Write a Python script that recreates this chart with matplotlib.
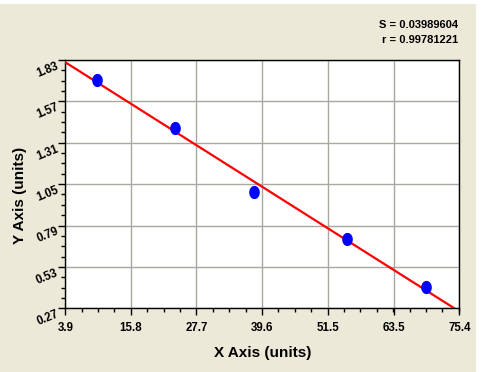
import numpy as np
import matplotlib
matplotlib.use("Agg")
import matplotlib.pyplot as plt
from matplotlib.patches import Rectangle
from matplotlib.path import Path
from matplotlib.ticker import FixedLocator, AutoMinorLocator

x_vals = [9.65, 23.75, 38.15, 55.0, 69.3]
y_vals = [1.704, 1.405, 1.001, 0.704, 0.404]
x_ticks = [3.9, 15.8, 27.7, 39.6, 51.5, 63.5, 75.4]
y_ticks = [0.27, 0.53, 0.79, 1.05, 1.31, 1.57, 1.83]
x_tick_labels = ["3.9", "15.8", "27.7", "39.6", "51.5", "63.5", "75.4"]
y_tick_labels = ["0.27", "0.53", "0.79", "1.05", "1.31", "1.57", "1.83"]
stats_text = ["S = 0.03989604", "r = 0.99781221"]

plt.rcParams['font.family'] = ['Liberation Sans', 'DejaVu Sans']

fig = plt.figure(figsize=(4.86, 3.72), dpi=100, facecolor='white')
fig.patches.append(Rectangle((0, 0), 476/486, 368/372, transform=fig.transFigure,
                             facecolor='#ECE9D8', edgecolor='none', zorder=-10))

ax = fig.add_axes([65.3/486, 1-308.3/372, (459.3-65.3)/486, (308.3-60)/372])
ax.set_facecolor('white')
ax.set_xlim(3.9, 75.4)
ax.set_ylim(0.27, 1.83)

ax.xaxis.set_major_locator(FixedLocator(x_ticks))
ax.yaxis.set_major_locator(FixedLocator(y_ticks))
ax.set_xticklabels(x_tick_labels, fontsize=8.3, fontweight='bold')
ax.set_yticklabels(y_tick_labels, fontsize=8.3, fontweight='bold', rotation=22,
                   rotation_mode='anchor', ha='right', va='top')
ax.xaxis.set_minor_locator(AutoMinorLocator(4))
ax.yaxis.set_minor_locator(AutoMinorLocator(4))
ax.tick_params(axis='both', which='major', direction='out', length=5, width=1, color='black')
ax.tick_params(axis='both', which='minor', direction='out', length=3, width=1, color='black')
ax.tick_params(axis='x', which='major', pad=5)
ax.tick_params(axis='y', which='major', pad=2)

ax.grid(True, which='major', color='#A8A8A0', linewidth=1)
ax.set_axisbelow(True)
for s in ax.spines.values():
    s.set_color('black')
    s.set_linewidth(1)

# regression line
coef = np.polyfit(x_vals, y_vals, 1)
xl = np.array([x_ticks[0], x_ticks[-1]])
ax.plot(xl, np.polyval(coef, xl), color='#FF0000', linewidth=1.6, zorder=3)

# ellipse marker
t = np.linspace(0, 2*np.pi, 40)
verts = np.column_stack([0.78*np.cos(t), np.sin(t)])
ell = Path(verts, closed=True)
ax.plot(x_vals, y_vals, linestyle='none', marker=ell, markersize=8.5,
        color='#0000FF', markeredgecolor='#0000FF', zorder=4)

ax.set_xlabel("X Axis (units)", fontsize=11, fontweight='bold')
ax.set_ylabel("Y Axis (units)", fontsize=11, fontweight='bold')
ax.xaxis.set_label_coords(0.502, -0.152)
ax.yaxis.set_label_coords(-0.097, 0.456)

fig.text(458/486, 1-25/372, stats_text[0], ha='right', va='center', fontsize=8, fontweight='bold')
fig.text(458/486, 1-40/372, stats_text[1], ha='right', va='center', fontsize=8, fontweight='bold')

fig.savefig("out.png", dpi=100, facecolor=fig.get_facecolor())
